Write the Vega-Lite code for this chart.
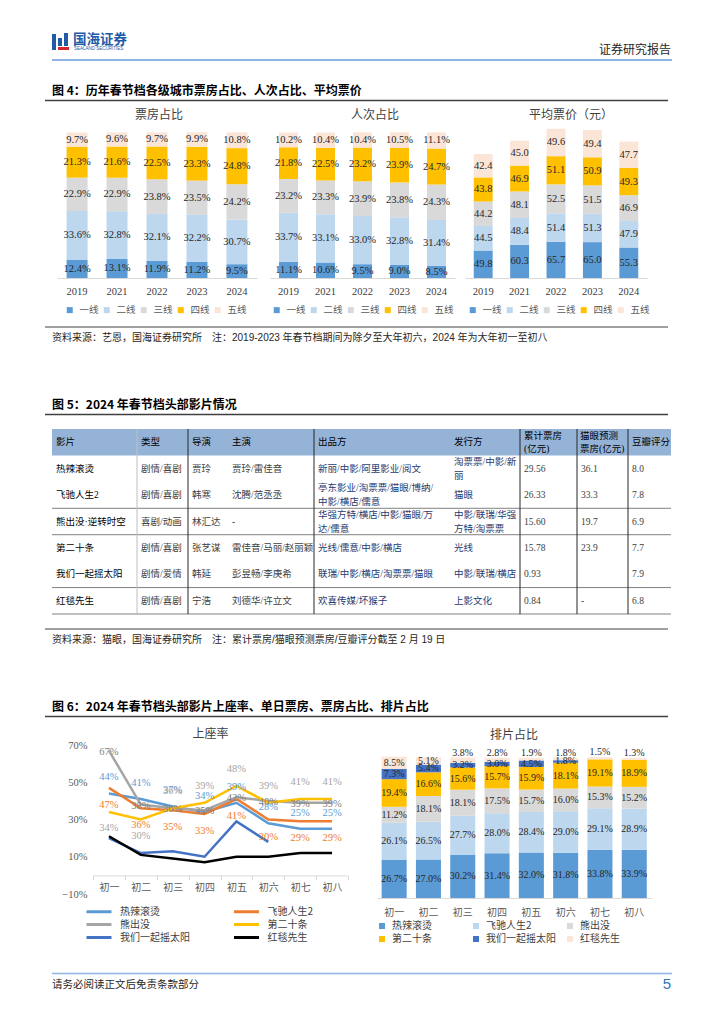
{
"$schema": "https://vega.github.io/schema/vega-lite/v6.json",
"background": "white",
"padding": 0,
"spacing": 0,
"bounds": "full",
"config": {
  "view": {"stroke": null},
  "font": "Noto Sans CJK SC",
  "axis": {"labelFont": "Liberation Serif, Noto Sans CJK SC"},
  "legend": {"labelFont": "Noto Sans CJK SC"}
},
"resolve": {"scale": {"x": "independent", "y": "independent", "color": "independent"}, "legend": {"color": "independent"}},
"datasets": {
  "tiers": [{"tier": "一线", "k": 1}, {"tier": "二线", "k": 2}, {"tier": "三线", "k": 3}, {"tier": "四线", "k": 4}, {"tier": "五线", "k": 5}],
  "films": [{"s": "热辣滚烫", "k": 1}, {"s": "飞驰人生2", "k": 2}, {"s": "熊出没", "k": 3}, {"s": "第二十条", "k": 4}, {"s": "我们一起摇太阳", "k": 5}, {"s": "红毯先生", "k": 6}],
  "box": [
    {"year": "2019", "tier": "一线", "v": 0.124}, {"year": "2019", "tier": "二线", "v": 0.336}, {"year": "2019", "tier": "三线", "v": 0.229}, {"year": "2019", "tier": "四线", "v": 0.213}, {"year": "2019", "tier": "五线", "v": 0.097},
    {"year": "2021", "tier": "一线", "v": 0.131}, {"year": "2021", "tier": "二线", "v": 0.328}, {"year": "2021", "tier": "三线", "v": 0.229}, {"year": "2021", "tier": "四线", "v": 0.216}, {"year": "2021", "tier": "五线", "v": 0.096},
    {"year": "2022", "tier": "一线", "v": 0.119}, {"year": "2022", "tier": "二线", "v": 0.321}, {"year": "2022", "tier": "三线", "v": 0.238}, {"year": "2022", "tier": "四线", "v": 0.225}, {"year": "2022", "tier": "五线", "v": 0.097},
    {"year": "2023", "tier": "一线", "v": 0.112}, {"year": "2023", "tier": "二线", "v": 0.322}, {"year": "2023", "tier": "三线", "v": 0.235}, {"year": "2023", "tier": "四线", "v": 0.233}, {"year": "2023", "tier": "五线", "v": 0.099},
    {"year": "2024", "tier": "一线", "v": 0.095}, {"year": "2024", "tier": "二线", "v": 0.307}, {"year": "2024", "tier": "三线", "v": 0.242}, {"year": "2024", "tier": "四线", "v": 0.248}, {"year": "2024", "tier": "五线", "v": 0.108}
  ],
  "pc": [
    {"year": "2019", "tier": "一线", "v": 0.111}, {"year": "2019", "tier": "二线", "v": 0.337}, {"year": "2019", "tier": "三线", "v": 0.232}, {"year": "2019", "tier": "四线", "v": 0.218}, {"year": "2019", "tier": "五线", "v": 0.102},
    {"year": "2021", "tier": "一线", "v": 0.106}, {"year": "2021", "tier": "二线", "v": 0.331}, {"year": "2021", "tier": "三线", "v": 0.233}, {"year": "2021", "tier": "四线", "v": 0.225}, {"year": "2021", "tier": "五线", "v": 0.104},
    {"year": "2022", "tier": "一线", "v": 0.095}, {"year": "2022", "tier": "二线", "v": 0.330}, {"year": "2022", "tier": "三线", "v": 0.239}, {"year": "2022", "tier": "四线", "v": 0.232}, {"year": "2022", "tier": "五线", "v": 0.104},
    {"year": "2023", "tier": "一线", "v": 0.090}, {"year": "2023", "tier": "二线", "v": 0.328}, {"year": "2023", "tier": "三线", "v": 0.238}, {"year": "2023", "tier": "四线", "v": 0.239}, {"year": "2023", "tier": "五线", "v": 0.105},
    {"year": "2024", "tier": "一线", "v": 0.085}, {"year": "2024", "tier": "二线", "v": 0.314}, {"year": "2024", "tier": "三线", "v": 0.243}, {"year": "2024", "tier": "四线", "v": 0.247}, {"year": "2024", "tier": "五线", "v": 0.111}
  ],
  "price": [
    {"year": "2019", "tier": "一线", "v": 49.8}, {"year": "2019", "tier": "二线", "v": 44.5}, {"year": "2019", "tier": "三线", "v": 44.2}, {"year": "2019", "tier": "四线", "v": 43.8}, {"year": "2019", "tier": "五线", "v": 42.4},
    {"year": "2021", "tier": "一线", "v": 60.3}, {"year": "2021", "tier": "二线", "v": 48.4}, {"year": "2021", "tier": "三线", "v": 48.1}, {"year": "2021", "tier": "四线", "v": 46.9}, {"year": "2021", "tier": "五线", "v": 45.0},
    {"year": "2022", "tier": "一线", "v": 65.7}, {"year": "2022", "tier": "二线", "v": 51.4}, {"year": "2022", "tier": "三线", "v": 52.5}, {"year": "2022", "tier": "四线", "v": 51.1}, {"year": "2022", "tier": "五线", "v": 49.6},
    {"year": "2023", "tier": "一线", "v": 65.0}, {"year": "2023", "tier": "二线", "v": 51.3}, {"year": "2023", "tier": "三线", "v": 51.5}, {"year": "2023", "tier": "四线", "v": 50.9}, {"year": "2023", "tier": "五线", "v": 49.4},
    {"year": "2024", "tier": "一线", "v": 55.3}, {"year": "2024", "tier": "二线", "v": 47.9}, {"year": "2024", "tier": "三线", "v": 46.9}, {"year": "2024", "tier": "四线", "v": 49.3}, {"year": "2024", "tier": "五线", "v": 47.7}
  ],
  "seat": [
    {"d": "初一", "s": "热辣滚烫", "v": 0.44}, {"d": "初二", "s": "热辣滚烫", "v": 0.41}, {"d": "初三", "s": "热辣滚烫", "v": 0.37}, {"d": "初四", "s": "热辣滚烫", "v": 0.34}, {"d": "初五", "s": "热辣滚烫", "v": 0.39}, {"d": "初六", "s": "热辣滚烫", "v": 0.28}, {"d": "初七", "s": "热辣滚烫", "v": 0.25}, {"d": "初八", "s": "热辣滚烫", "v": 0.25},
    {"d": "初一", "s": "飞驰人生2", "v": 0.47}, {"d": "初二", "s": "飞驰人生2", "v": 0.36}, {"d": "初三", "s": "飞驰人生2", "v": 0.35}, {"d": "初四", "s": "飞驰人生2", "v": 0.33}, {"d": "初五", "s": "飞驰人生2", "v": 0.41}, {"d": "初六", "s": "飞驰人生2", "v": 0.30}, {"d": "初七", "s": "飞驰人生2", "v": 0.29}, {"d": "初八", "s": "飞驰人生2", "v": 0.29},
    {"d": "初一", "s": "熊出没", "v": 0.67}, {"d": "初二", "s": "熊出没", "v": 0.38}, {"d": "初三", "s": "熊出没", "v": 0.36}, {"d": "初四", "s": "熊出没", "v": 0.35}, {"d": "初五", "s": "熊出没", "v": 0.42}, {"d": "初六", "s": "熊出没", "v": 0.40}, {"d": "初七", "s": "熊出没", "v": 0.39}, {"d": "初八", "s": "熊出没", "v": 0.39},
    {"d": "初一", "s": "第二十条", "v": 0.34}, {"d": "初二", "s": "第二十条", "v": 0.30}, {"d": "初三", "s": "第二十条", "v": 0.36}, {"d": "初四", "s": "第二十条", "v": 0.39}, {"d": "初五", "s": "第二十条", "v": 0.48}, {"d": "初六", "s": "第二十条", "v": 0.39}, {"d": "初七", "s": "第二十条", "v": 0.41}, {"d": "初八", "s": "第二十条", "v": 0.41},
    {"d": "初一", "s": "我们一起摇太阳", "v": 0.20}, {"d": "初二", "s": "我们一起摇太阳", "v": 0.12}, {"d": "初三", "s": "我们一起摇太阳", "v": 0.13}, {"d": "初四", "s": "我们一起摇太阳", "v": 0.10}, {"d": "初五", "s": "我们一起摇太阳", "v": 0.29}, {"d": "初六", "s": "我们一起摇太阳", "v": 0.18},
    {"d": "初一", "s": "红毯先生", "v": 0.21}, {"d": "初二", "s": "红毯先生", "v": 0.11}, {"d": "初三", "s": "红毯先生", "v": 0.09}, {"d": "初四", "s": "红毯先生", "v": 0.07}, {"d": "初五", "s": "红毯先生", "v": 0.10}, {"d": "初六", "s": "红毯先生", "v": 0.10}, {"d": "初七", "s": "红毯先生", "v": 0.12}, {"d": "初八", "s": "红毯先生", "v": 0.12}
  ],
  "sched": [
    {"d": "初一", "s": "热辣滚烫", "v": 0.267}, {"d": "初一", "s": "飞驰人生2", "v": 0.261}, {"d": "初一", "s": "熊出没", "v": 0.112}, {"d": "初一", "s": "第二十条", "v": 0.194}, {"d": "初一", "s": "我们一起摇太阳", "v": 0.073}, {"d": "初一", "s": "红毯先生", "v": 0.085},
    {"d": "初二", "s": "热辣滚烫", "v": 0.270}, {"d": "初二", "s": "飞驰人生2", "v": 0.265}, {"d": "初二", "s": "熊出没", "v": 0.181}, {"d": "初二", "s": "第二十条", "v": 0.166}, {"d": "初二", "s": "我们一起摇太阳", "v": 0.054}, {"d": "初二", "s": "红毯先生", "v": 0.051},
    {"d": "初三", "s": "热辣滚烫", "v": 0.302}, {"d": "初三", "s": "飞驰人生2", "v": 0.277}, {"d": "初三", "s": "熊出没", "v": 0.181}, {"d": "初三", "s": "第二十条", "v": 0.156}, {"d": "初三", "s": "我们一起摇太阳", "v": 0.032}, {"d": "初三", "s": "红毯先生", "v": 0.038},
    {"d": "初四", "s": "热辣滚烫", "v": 0.314}, {"d": "初四", "s": "飞驰人生2", "v": 0.280}, {"d": "初四", "s": "熊出没", "v": 0.175}, {"d": "初四", "s": "第二十条", "v": 0.157}, {"d": "初四", "s": "我们一起摇太阳", "v": 0.030}, {"d": "初四", "s": "红毯先生", "v": 0.028},
    {"d": "初五", "s": "热辣滚烫", "v": 0.320}, {"d": "初五", "s": "飞驰人生2", "v": 0.284}, {"d": "初五", "s": "熊出没", "v": 0.157}, {"d": "初五", "s": "第二十条", "v": 0.159}, {"d": "初五", "s": "我们一起摇太阳", "v": 0.045}, {"d": "初五", "s": "红毯先生", "v": 0.019},
    {"d": "初六", "s": "热辣滚烫", "v": 0.318}, {"d": "初六", "s": "飞驰人生2", "v": 0.290}, {"d": "初六", "s": "熊出没", "v": 0.160}, {"d": "初六", "s": "第二十条", "v": 0.181}, {"d": "初六", "s": "我们一起摇太阳", "v": 0.018}, {"d": "初六", "s": "红毯先生", "v": 0.018},
    {"d": "初七", "s": "热辣滚烫", "v": 0.338}, {"d": "初七", "s": "飞驰人生2", "v": 0.291}, {"d": "初七", "s": "熊出没", "v": 0.153}, {"d": "初七", "s": "第二十条", "v": 0.191}, {"d": "初七", "s": "红毯先生", "v": 0.015},
    {"d": "初八", "s": "热辣滚烫", "v": 0.339}, {"d": "初八", "s": "飞驰人生2", "v": 0.289}, {"d": "初八", "s": "熊出没", "v": 0.152}, {"d": "初八", "s": "第二十条", "v": 0.189}, {"d": "初八", "s": "红毯先生", "v": 0.013}
  ],
  "table": [
    {"r": "0", "影片": "影片", "类型": "类型", "导演": "导演", "主演": "主演", "出品方": "出品方", "发行方": "发行方", "累计票房": "累计票房\n(亿元)", "猫眼预测票房": "猫眼预测\n票房(亿元)", "豆瓣评分": "豆瓣评分"},
    {"r": "1", "影片": "热辣滚烫", "类型": "剧情/喜剧", "导演": "贾玲", "主演": "贾玲/雷佳音", "出品方": "新丽/中影/阿里影业/阅文", "发行方": "淘票票/中影/新\n丽", "累计票房": "29.56", "猫眼预测票房": "36.1", "豆瓣评分": "8.0"},
    {"r": "2", "影片": "飞驰人生2", "类型": "剧情/喜剧", "导演": "韩寒", "主演": "沈腾/范丞丞", "出品方": "亭东影业/淘票票/猫眼/博纳/\n中影/横店/儒意", "发行方": "猫眼", "累计票房": "26.33", "猫眼预测票房": "33.3", "豆瓣评分": "7.8"},
    {"r": "3", "影片": "熊出没·逆转时空", "类型": "喜剧/动画", "导演": "林汇达", "主演": "-", "出品方": "华强方特/横店/中影/猫眼/万\n达/儒意", "发行方": "中影/联瑞/华强\n方特/淘票票", "累计票房": "15.60", "猫眼预测票房": "19.7", "豆瓣评分": "6.9"},
    {"r": "4", "影片": "第二十条", "类型": "剧情/喜剧", "导演": "张艺谋", "主演": "雷佳音/马丽/赵丽颖", "出品方": "光线/儒意/中影/横店", "发行方": "光线", "累计票房": "15.78", "猫眼预测票房": "23.9", "豆瓣评分": "7.7"},
    {"r": "5", "影片": "我们一起摇太阳", "类型": "剧情/爱情", "导演": "韩延", "主演": "彭昱畅/李庚希", "出品方": "联瑞/中影/横店/淘票票/猫眼", "发行方": "中影/联瑞/横店", "累计票房": "0.93", "猫眼预测票房": "", "豆瓣评分": "7.9"},
    {"r": "6", "影片": "红毯先生", "类型": "剧情/喜剧", "导演": "宁浩", "主演": "刘德华/许立文", "出品方": "欢喜传媒/坏猴子", "发行方": "上影文化", "累计票房": "0.84", "猫眼预测票房": "-", "豆瓣评分": "6.8"}
  ]
},
"vconcat": [
  {
    "width": 724, "height": 108,
    "data": {"values": [{}]},
    "layer": [
      {"mark": {"type": "rect", "color": "#1F5BA6"}, "encoding": {"x": {"value": 52}, "x2": {"value": 56}, "y": {"value": 34}, "y2": {"value": 50}}},
      {"mark": {"type": "rect", "color": "#1F5BA6"}, "encoding": {"x": {"value": 58}, "x2": {"value": 62}, "y": {"value": 38}, "y2": {"value": 46}}},
      {"mark": {"type": "rect", "color": "#1F5BA6"}, "encoding": {"x": {"value": 64}, "x2": {"value": 68}, "y": {"value": 33}, "y2": {"value": 46}}},
      {"mark": {"type": "rect", "color": "#D7262E"}, "encoding": {"x": {"value": 58}, "x2": {"value": 69}, "y": {"value": 47}, "y2": {"value": 50}}},
      {"mark": {"type": "text", "text": "国海证券", "align": "left", "baseline": "middle", "fontSize": 13.5, "fontWeight": "bold", "color": "#1F5BA6"}, "encoding": {"x": {"value": 73}, "y": {"value": 40}}},
      {"mark": {"type": "text", "text": "SEALAND SECURITIES", "align": "left", "baseline": "middle", "fontSize": 4.5, "font": "Liberation Sans", "color": "#1F5BA6"}, "encoding": {"x": {"value": 74}, "y": {"value": 49}}},
      {"mark": {"type": "text", "text": "证券研究报告", "align": "right", "baseline": "middle", "fontSize": 12, "color": "#262626"}, "encoding": {"x": {"value": 671}, "y": {"value": 50}}},
      {"mark": {"type": "rule", "color": "#8DB4E2", "strokeWidth": 2}, "encoding": {"x": {"value": 52}, "x2": {"value": 672}, "y": {"value": 60}}},
      {"mark": {"type": "text", "text": "图 4：历年春节档各级城市票房占比、人次占比、平均票价", "align": "left", "baseline": "middle", "fontSize": 12, "fontWeight": "bold", "color": "#000000"}, "encoding": {"x": {"value": 52}, "y": {"value": 91}}},
      {"mark": {"type": "rule", "color": "#404040", "strokeWidth": 1.5}, "encoding": {"x": {"value": 45}, "x2": {"value": 668}, "y": {"value": 100.5}}}
    ]
  },
  {
    "spacing": 0, "bounds": "flush",
    "resolve": {"scale": {"x": "independent", "y": "independent", "color": "independent"}, "legend": {"color": "independent"}},
    "hconcat": [
      {"width": 57, "height": 212, "data": {"values": [{}]}, "mark": {"type": "point", "opacity": 0, "size": 0}},
      {
        "width": 200, "height": 170,
        "data": {"name": "box"},
        "transform": [{"lookup": "tier", "from": {"data": {"name": "tiers"}, "key": "tier", "fields": ["k"]}}],
        "encoding": {
          "x": {"field": "year", "type": "ordinal", "scale": {"paddingInner": 0.475, "paddingOuter": 0.24}, "axis": {"title": null, "labelAngle": 0, "ticks": false, "domainColor": "#D9D9D9", "labelFontSize": 10.5, "labelColor": "#404040", "labelPadding": 8, "grid": false, "labelFont": "Liberation Serif"}},
          "y": {"field": "v", "type": "quantitative", "stack": "zero", "scale": {"domain": [0, 1.1676]}, "axis": null},
          "order": {"field": "k", "type": "quantitative"}
        },
        "layer": [
          {"mark": "bar", "encoding": {"color": {"field": "tier", "type": "nominal", "scale": {"domain": ["一线", "二线", "三线", "四线", "五线"], "range": ["#5B9BD5", "#BDD7EE", "#D9D9D9", "#FFC000", "#FBE5D6"]}, "legend": {"title": null, "orient": "none", "legendX": 8, "legendY": 197, "direction": "horizontal", "symbolType": "square", "symbolSize": 36, "symbolStrokeWidth": 0, "labelFontSize": 9.5, "labelColor": "#595959", "labelOffset": 5, "columnPadding": 3}}}},
          {"mark": {"type": "text", "font": "Liberation Serif", "fontSize": 10.5, "color": "#262626", "baseline": "middle"}, "encoding": {"detail": {"field": "tier"}, "y": {"field": "v", "type": "quantitative", "stack": "zero", "bandPosition": 0.5}, "text": {"field": "v", "type": "quantitative", "format": ".1%"}}},
          {"data": {"values": [{}]}, "mark": {"type": "text", "text": "票房占比", "fontSize": 12, "color": "#404040", "align": "center", "baseline": "middle"}, "encoding": {"x": {"value": 102}, "y": {"value": 7}}}
        ]
      },
      {"width": 12.5, "height": 212, "data": {"values": [{}]}, "mark": {"type": "point", "opacity": 0, "size": 0}},
      {
        "width": 185, "height": 170,
        "data": {"name": "pc"},
        "transform": [{"lookup": "tier", "from": {"data": {"name": "tiers"}, "key": "tier", "fields": ["k"]}}],
        "encoding": {
          "x": {"field": "year", "type": "ordinal", "scale": {"paddingInner": 0.486, "paddingOuter": 0.243}, "axis": {"title": null, "labelAngle": 0, "ticks": false, "domainColor": "#D9D9D9", "labelFontSize": 10.5, "labelColor": "#404040", "labelPadding": 8, "grid": false, "labelFont": "Liberation Serif"}},
          "y": {"field": "v", "type": "quantitative", "stack": "zero", "scale": {"domain": [0, 1.1676]}, "axis": null},
          "order": {"field": "k", "type": "quantitative"}
        },
        "layer": [
          {"mark": "bar", "encoding": {"color": {"field": "tier", "type": "nominal", "scale": {"domain": ["一线", "二线", "三线", "四线", "五线"], "range": ["#5B9BD5", "#BDD7EE", "#D9D9D9", "#FFC000", "#FBE5D6"]}, "legend": {"title": null, "orient": "none", "legendX": 2, "legendY": 197, "direction": "horizontal", "symbolType": "square", "symbolSize": 36, "symbolStrokeWidth": 0, "labelFontSize": 9.5, "labelColor": "#595959", "labelOffset": 5, "columnPadding": 3}}}},
          {"mark": {"type": "text", "font": "Liberation Serif", "fontSize": 10.5, "color": "#262626", "baseline": "middle"}, "encoding": {"detail": {"field": "tier"}, "y": {"field": "v", "type": "quantitative", "stack": "zero", "bandPosition": 0.5}, "text": {"field": "v", "type": "quantitative", "format": ".1%"}}},
          {"data": {"values": [{}]}, "mark": {"type": "text", "text": "人次占比", "fontSize": 12, "color": "#404040", "align": "center", "baseline": "middle"}, "encoding": {"x": {"value": 105}, "y": {"value": 7}}}
        ]
      },
      {"width": 9.3, "height": 212, "data": {"values": [{}]}, "mark": {"type": "point", "opacity": 0, "size": 0}},
      {
        "width": 182, "height": 170,
        "data": {"name": "price"},
        "transform": [{"lookup": "tier", "from": {"data": {"name": "tiers"}, "key": "tier", "fields": ["k"]}}],
        "encoding": {
          "x": {"field": "year", "type": "ordinal", "scale": {"paddingInner": 0.48, "paddingOuter": 0.24}, "axis": {"title": null, "labelAngle": 0, "ticks": false, "domainColor": "#D9D9D9", "labelFontSize": 10.5, "labelColor": "#404040", "labelPadding": 8, "grid": false, "labelFont": "Liberation Serif"}},
          "y": {"field": "v", "type": "quantitative", "stack": "zero", "scale": {"domain": [0, 308]}, "axis": null},
          "order": {"field": "k", "type": "quantitative"}
        },
        "layer": [
          {"mark": "bar", "encoding": {"color": {"field": "tier", "type": "nominal", "scale": {"domain": ["一线", "二线", "三线", "四线", "五线"], "range": ["#5B9BD5", "#BDD7EE", "#D9D9D9", "#FFC000", "#FBE5D6"]}, "legend": {"title": null, "orient": "none", "legendX": 3, "legendY": 197, "direction": "horizontal", "symbolType": "square", "symbolSize": 36, "symbolStrokeWidth": 0, "labelFontSize": 9.5, "labelColor": "#595959", "labelOffset": 5, "columnPadding": 3}}}},
          {"mark": {"type": "text", "font": "Liberation Serif", "fontSize": 10.5, "color": "#262626", "baseline": "middle"}, "encoding": {"detail": {"field": "tier"}, "y": {"field": "v", "type": "quantitative", "stack": "zero", "bandPosition": 0.5}, "text": {"field": "v", "type": "quantitative", "format": ".1f"}}},
          {"data": {"values": [{}]}, "mark": {"type": "text", "text": "平均票价（元）", "fontSize": 12, "color": "#404040", "align": "center", "baseline": "middle"}, "encoding": {"x": {"value": 106}, "y": {"value": 7}}}
        ]
      }
    ]
  },
  {
    "width": 724, "height": 108,
    "data": {"values": [{}]},
    "layer": [
      {"mark": {"type": "rule", "color": "#404040", "strokeWidth": 1}, "encoding": {"x": {"value": 45}, "x2": {"value": 668}, "y": {"value": 7}}},
      {"mark": {"type": "text", "text": "资料来源：艺恩，国海证券研究所　注：2019-2023 年春节档期间为除夕至大年初六，2024 年为大年初一至初八", "align": "left", "baseline": "middle", "fontSize": 10, "font": "Liberation Sans, Noto Sans CJK SC", "color": "#262626"}, "encoding": {"x": {"value": 52}, "y": {"value": 18}}},
      {"mark": {"type": "text", "text": "图 5：2024 年春节档头部影片情况", "align": "left", "baseline": "middle", "fontSize": 12, "fontWeight": "bold", "color": "#000000"}, "encoding": {"x": {"value": 52}, "y": {"value": 85}}},
      {"mark": {"type": "rule", "color": "#404040", "strokeWidth": 1.5}, "encoding": {"x": {"value": 45}, "x2": {"value": 668}, "y": {"value": 94.5}}}
    ]
  },
  {
    "spacing": 0, "bounds": "flush",
    "resolve": {"scale": {"x": "independent", "y": "independent", "color": "independent"}},
    "hconcat": [
      {"width": 52, "height": 185, "data": {"values": [{}]}, "mark": {"type": "point", "opacity": 0, "size": 0}},
      {"width": 85, "height": 185, "data": {"name": "table"}, "layer": [
        {"transform": [{"filter": "datum.r == '0'"}], "mark": {"type": "rect", "color": "#95B3D7"}, "encoding": {"y": {"field": "r", "type": "ordinal", "scale": {"domain": ["0","1","2","3","4","5","6"], "paddingInner": 0, "paddingOuter": 0}, "axis": null}}},
        {"mark": {"type": "text", "align": "left", "baseline": "middle", "dx": 4, "lineBreak": "\n", "lineHeight": 14, "fontSize": 9.5, "font": "Liberation Serif, Noto Sans CJK SC"}, "encoding": {"x": {"value": 0}, "y": {"field": "r", "type": "ordinal", "scale": {"domain": ["0","1","2","3","4","5","6"], "paddingInner": 0, "paddingOuter": 0}, "axis": null}, "text": {"field": "影片"}, "color": {"value": "#000000"}}},
        {"transform": [{"filter": "datum.r == '2' || datum.r == '3' || datum.r == '5' || datum.r == '6'"}], "mark": {"type": "rule", "color": "#808080"}, "encoding": {"y": {"field": "r", "type": "ordinal", "bandPosition": 1, "scale": {"domain": ["0","1","2","3","4","5","6"], "paddingInner": 0, "paddingOuter": 0}, "axis": null}}}
      ]},
      {"width": 51, "height": 185, "data": {"name": "table"}, "layer": [
        {"transform": [{"filter": "datum.r == '0'"}], "mark": {"type": "rect", "color": "#95B3D7"}, "encoding": {"y": {"field": "r", "type": "ordinal", "scale": {"domain": ["0","1","2","3","4","5","6"], "paddingInner": 0, "paddingOuter": 0}, "axis": null}}},
        {"mark": {"type": "text", "align": "left", "baseline": "middle", "dx": 4, "lineBreak": "\n", "lineHeight": 14, "fontSize": 9.5, "font": "Liberation Serif, Noto Sans CJK SC"}, "encoding": {"x": {"value": 0}, "y": {"field": "r", "type": "ordinal", "scale": {"domain": ["0","1","2","3","4","5","6"], "paddingInner": 0, "paddingOuter": 0}, "axis": null}, "text": {"field": "类型"}, "color": {"condition": {"test": "datum.r == '0'", "value": "#000000"}, "value": "#404040"}}},
        {"transform": [{"filter": "datum.r == '2' || datum.r == '3' || datum.r == '5' || datum.r == '6'"}], "mark": {"type": "rule", "color": "#808080"}, "encoding": {"y": {"field": "r", "type": "ordinal", "bandPosition": 1, "scale": {"domain": ["0","1","2","3","4","5","6"], "paddingInner": 0, "paddingOuter": 0}, "axis": null}}},
        {"data": {"values": [{}]}, "mark": {"type": "rule", "color": "#BFBFBF"}, "encoding": {"x": {"value": 0}}}
      ]},
      {"width": 40, "height": 185, "data": {"name": "table"}, "layer": [
        {"transform": [{"filter": "datum.r == '0'"}], "mark": {"type": "rect", "color": "#95B3D7"}, "encoding": {"y": {"field": "r", "type": "ordinal", "scale": {"domain": ["0","1","2","3","4","5","6"], "paddingInner": 0, "paddingOuter": 0}, "axis": null}}},
        {"mark": {"type": "text", "align": "left", "baseline": "middle", "dx": 4, "lineBreak": "\n", "lineHeight": 14, "fontSize": 9.5, "font": "Liberation Serif, Noto Sans CJK SC"}, "encoding": {"x": {"value": 0}, "y": {"field": "r", "type": "ordinal", "scale": {"domain": ["0","1","2","3","4","5","6"], "paddingInner": 0, "paddingOuter": 0}, "axis": null}, "text": {"field": "导演"}, "color": {"condition": {"test": "datum.r == '0'", "value": "#000000"}, "value": "#404040"}}},
        {"transform": [{"filter": "datum.r == '2' || datum.r == '3' || datum.r == '5' || datum.r == '6'"}], "mark": {"type": "rule", "color": "#808080"}, "encoding": {"y": {"field": "r", "type": "ordinal", "bandPosition": 1, "scale": {"domain": ["0","1","2","3","4","5","6"], "paddingInner": 0, "paddingOuter": 0}, "axis": null}}},
        {"data": {"values": [{}]}, "mark": {"type": "rule", "color": "#262626"}, "encoding": {"x": {"value": 0}}}
      ]},
      {"width": 86, "height": 185, "data": {"name": "table"}, "layer": [
        {"transform": [{"filter": "datum.r == '0'"}], "mark": {"type": "rect", "color": "#95B3D7"}, "encoding": {"y": {"field": "r", "type": "ordinal", "scale": {"domain": ["0","1","2","3","4","5","6"], "paddingInner": 0, "paddingOuter": 0}, "axis": null}}},
        {"mark": {"type": "text", "align": "left", "baseline": "middle", "dx": 4, "lineBreak": "\n", "lineHeight": 14, "fontSize": 9.5, "font": "Liberation Serif, Noto Sans CJK SC"}, "encoding": {"x": {"value": 0}, "y": {"field": "r", "type": "ordinal", "scale": {"domain": ["0","1","2","3","4","5","6"], "paddingInner": 0, "paddingOuter": 0}, "axis": null}, "text": {"field": "主演"}, "color": {"condition": {"test": "datum.r == '0'", "value": "#000000"}, "value": "#404040"}}},
        {"transform": [{"filter": "datum.r == '2' || datum.r == '3' || datum.r == '5' || datum.r == '6'"}], "mark": {"type": "rule", "color": "#808080"}, "encoding": {"y": {"field": "r", "type": "ordinal", "bandPosition": 1, "scale": {"domain": ["0","1","2","3","4","5","6"], "paddingInner": 0, "paddingOuter": 0}, "axis": null}}}
      ]},
      {"width": 136, "height": 185, "data": {"name": "table"}, "layer": [
        {"transform": [{"filter": "datum.r == '0'"}], "mark": {"type": "rect", "color": "#95B3D7"}, "encoding": {"y": {"field": "r", "type": "ordinal", "scale": {"domain": ["0","1","2","3","4","5","6"], "paddingInner": 0, "paddingOuter": 0}, "axis": null}}},
        {"transform": [{"filter": "indexof(datum['出品方'], '\\n') < 0"}], "mark": {"type": "text", "align": "left", "baseline": "middle", "dx": 4, "lineBreak": "\n", "lineHeight": 14, "fontSize": 9.5, "font": "Liberation Serif, Noto Sans CJK SC"}, "encoding": {"x": {"value": 0}, "y": {"field": "r", "type": "ordinal", "scale": {"domain": ["0","1","2","3","4","5","6"], "paddingInner": 0, "paddingOuter": 0}, "axis": null}, "text": {"field": "出品方"}, "color": {"condition": {"test": "datum.r == '0'", "value": "#000000"}, "value": "#1F3A6E"}}},
        {"transform": [{"filter": "indexof(datum['出品方'], '\\n') >= 0"}], "mark": {"type": "text", "align": "left", "baseline": "middle", "dx": 4, "dy": -7, "lineBreak": "\n", "lineHeight": 14, "fontSize": 9.5, "font": "Liberation Serif, Noto Sans CJK SC"}, "encoding": {"x": {"value": 0}, "y": {"field": "r", "type": "ordinal", "scale": {"domain": ["0","1","2","3","4","5","6"], "paddingInner": 0, "paddingOuter": 0}, "axis": null}, "text": {"field": "出品方"}, "color": {"condition": {"test": "datum.r == '0'", "value": "#000000"}, "value": "#1F3A6E"}}},
        {"transform": [{"filter": "datum.r == '2' || datum.r == '3' || datum.r == '5' || datum.r == '6'"}], "mark": {"type": "rule", "color": "#808080"}, "encoding": {"y": {"field": "r", "type": "ordinal", "bandPosition": 1, "scale": {"domain": ["0","1","2","3","4","5","6"], "paddingInner": 0, "paddingOuter": 0}, "axis": null}}},
        {"data": {"values": [{}]}, "mark": {"type": "rule", "color": "#262626"}, "encoding": {"x": {"value": 0}}}
      ]},
      {"width": 70, "height": 185, "data": {"name": "table"}, "layer": [
        {"transform": [{"filter": "datum.r == '0'"}], "mark": {"type": "rect", "color": "#95B3D7"}, "encoding": {"y": {"field": "r", "type": "ordinal", "scale": {"domain": ["0","1","2","3","4","5","6"], "paddingInner": 0, "paddingOuter": 0}, "axis": null}}},
        {"transform": [{"filter": "indexof(datum['发行方'], '\\n') < 0"}], "mark": {"type": "text", "align": "left", "baseline": "middle", "dx": 4, "lineBreak": "\n", "lineHeight": 14, "fontSize": 9.5, "font": "Liberation Serif, Noto Sans CJK SC"}, "encoding": {"x": {"value": 0}, "y": {"field": "r", "type": "ordinal", "scale": {"domain": ["0","1","2","3","4","5","6"], "paddingInner": 0, "paddingOuter": 0}, "axis": null}, "text": {"field": "发行方"}, "color": {"condition": {"test": "datum.r == '0'", "value": "#000000"}, "value": "#1F3A6E"}}},
        {"transform": [{"filter": "indexof(datum['发行方'], '\\n') >= 0"}], "mark": {"type": "text", "align": "left", "baseline": "middle", "dx": 4, "dy": -7, "lineBreak": "\n", "lineHeight": 14, "fontSize": 9.5, "font": "Liberation Serif, Noto Sans CJK SC"}, "encoding": {"x": {"value": 0}, "y": {"field": "r", "type": "ordinal", "scale": {"domain": ["0","1","2","3","4","5","6"], "paddingInner": 0, "paddingOuter": 0}, "axis": null}, "text": {"field": "发行方"}, "color": {"condition": {"test": "datum.r == '0'", "value": "#000000"}, "value": "#1F3A6E"}}},
        {"transform": [{"filter": "datum.r == '2' || datum.r == '3' || datum.r == '5' || datum.r == '6'"}], "mark": {"type": "rule", "color": "#808080"}, "encoding": {"y": {"field": "r", "type": "ordinal", "bandPosition": 1, "scale": {"domain": ["0","1","2","3","4","5","6"], "paddingInner": 0, "paddingOuter": 0}, "axis": null}}}
      ]},
      {"width": 57, "height": 185, "data": {"name": "table"}, "layer": [
        {"transform": [{"filter": "datum.r == '0'"}], "mark": {"type": "rect", "color": "#95B3D7"}, "encoding": {"y": {"field": "r", "type": "ordinal", "scale": {"domain": ["0","1","2","3","4","5","6"], "paddingInner": 0, "paddingOuter": 0}, "axis": null}}},
        {"transform": [{"filter": "indexof(datum['累计票房'], '\\n') < 0"}], "mark": {"type": "text", "align": "left", "baseline": "middle", "dx": 4, "lineBreak": "\n", "lineHeight": 14, "fontSize": 9.5, "font": "Liberation Serif, Noto Sans CJK SC"}, "encoding": {"x": {"value": 0}, "y": {"field": "r", "type": "ordinal", "scale": {"domain": ["0","1","2","3","4","5","6"], "paddingInner": 0, "paddingOuter": 0}, "axis": null}, "text": {"field": "累计票房"}, "color": {"condition": {"test": "datum.r == '0'", "value": "#000000"}, "value": "#404040"}}},
        {"transform": [{"filter": "indexof(datum['累计票房'], '\\n') >= 0"}], "mark": {"type": "text", "align": "left", "baseline": "middle", "dx": 4, "dy": -6.5, "lineBreak": "\n", "lineHeight": 13, "fontSize": 9.5, "font": "Liberation Serif, Noto Sans CJK SC"}, "encoding": {"x": {"value": 0}, "y": {"field": "r", "type": "ordinal", "scale": {"domain": ["0","1","2","3","4","5","6"], "paddingInner": 0, "paddingOuter": 0}, "axis": null}, "text": {"field": "累计票房"}, "color": {"condition": {"test": "datum.r == '0'", "value": "#000000"}, "value": "#404040"}}},
        {"transform": [{"filter": "datum.r == '2' || datum.r == '3' || datum.r == '5' || datum.r == '6'"}], "mark": {"type": "rule", "color": "#808080"}, "encoding": {"y": {"field": "r", "type": "ordinal", "bandPosition": 1, "scale": {"domain": ["0","1","2","3","4","5","6"], "paddingInner": 0, "paddingOuter": 0}, "axis": null}}},
        {"data": {"values": [{}]}, "mark": {"type": "rule", "color": "#262626"}, "encoding": {"x": {"value": 0}}}
      ]},
      {"width": 51, "height": 185, "data": {"name": "table"}, "layer": [
        {"transform": [{"filter": "datum.r == '0'"}], "mark": {"type": "rect", "color": "#95B3D7"}, "encoding": {"y": {"field": "r", "type": "ordinal", "scale": {"domain": ["0","1","2","3","4","5","6"], "paddingInner": 0, "paddingOuter": 0}, "axis": null}}},
        {"transform": [{"filter": "indexof(datum['猫眼预测票房'], '\\n') < 0"}], "mark": {"type": "text", "align": "left", "baseline": "middle", "dx": 4, "lineBreak": "\n", "lineHeight": 14, "fontSize": 9.5, "font": "Liberation Serif, Noto Sans CJK SC"}, "encoding": {"x": {"value": 0}, "y": {"field": "r", "type": "ordinal", "scale": {"domain": ["0","1","2","3","4","5","6"], "paddingInner": 0, "paddingOuter": 0}, "axis": null}, "text": {"field": "猫眼预测票房"}, "color": {"condition": {"test": "datum.r == '0'", "value": "#000000"}, "value": "#404040"}}},
        {"transform": [{"filter": "indexof(datum['猫眼预测票房'], '\\n') >= 0"}], "mark": {"type": "text", "align": "left", "baseline": "middle", "dx": 3, "dy": -6.5, "lineBreak": "\n", "lineHeight": 13, "fontSize": 9.5, "font": "Liberation Serif, Noto Sans CJK SC"}, "encoding": {"x": {"value": 0}, "y": {"field": "r", "type": "ordinal", "scale": {"domain": ["0","1","2","3","4","5","6"], "paddingInner": 0, "paddingOuter": 0}, "axis": null}, "text": {"field": "猫眼预测票房"}, "color": {"condition": {"test": "datum.r == '0'", "value": "#000000"}, "value": "#404040"}}},
        {"transform": [{"filter": "datum.r == '2' || datum.r == '3' || datum.r == '5' || datum.r == '6'"}], "mark": {"type": "rule", "color": "#808080"}, "encoding": {"y": {"field": "r", "type": "ordinal", "bandPosition": 1, "scale": {"domain": ["0","1","2","3","4","5","6"], "paddingInner": 0, "paddingOuter": 0}, "axis": null}}},
        {"data": {"values": [{}]}, "mark": {"type": "rule", "color": "#262626"}, "encoding": {"x": {"value": 0}}}
      ]},
      {"width": 43, "height": 185, "data": {"name": "table"}, "layer": [
        {"transform": [{"filter": "datum.r == '0'"}], "mark": {"type": "rect", "color": "#95B3D7"}, "encoding": {"y": {"field": "r", "type": "ordinal", "scale": {"domain": ["0","1","2","3","4","5","6"], "paddingInner": 0, "paddingOuter": 0}, "axis": null}}},
        {"mark": {"type": "text", "align": "left", "baseline": "middle", "dx": 4, "lineBreak": "\n", "lineHeight": 14, "fontSize": 9.5, "font": "Liberation Serif, Noto Sans CJK SC"}, "encoding": {"x": {"value": 0}, "y": {"field": "r", "type": "ordinal", "scale": {"domain": ["0","1","2","3","4","5","6"], "paddingInner": 0, "paddingOuter": 0}, "axis": null}, "text": {"field": "豆瓣评分"}, "color": {"condition": {"test": "datum.r == '0'", "value": "#000000"}, "value": "#404040"}}},
        {"transform": [{"filter": "datum.r == '2' || datum.r == '3' || datum.r == '5' || datum.r == '6'"}], "mark": {"type": "rule", "color": "#808080"}, "encoding": {"y": {"field": "r", "type": "ordinal", "bandPosition": 1, "scale": {"domain": ["0","1","2","3","4","5","6"], "paddingInner": 0, "paddingOuter": 0}, "axis": null}}},
        {"data": {"values": [{}]}, "mark": {"type": "rule", "color": "#262626"}, "encoding": {"x": {"value": 0}}}
      ]}
    ]
  },
  {
    "width": 724, "height": 109,
    "data": {"values": [{}]},
    "layer": [
      {"mark": {"type": "rule", "color": "#404040", "strokeWidth": 1}, "encoding": {"x": {"value": 45}, "x2": {"value": 668}, "y": {"value": 14}}},
      {"mark": {"type": "text", "text": "资料来源：猫眼，国海证券研究所　注：累计票房/猫眼预测票房/豆瓣评分截至 2 月 19 日", "align": "left", "baseline": "middle", "fontSize": 10, "font": "Liberation Sans, Noto Sans CJK SC", "color": "#262626"}, "encoding": {"x": {"value": 52}, "y": {"value": 25}}},
      {"mark": {"type": "text", "text": "图 6：2024 年春节档头部影片上座率、单日票房、票房占比、排片占比", "align": "left", "baseline": "middle", "fontSize": 12, "fontWeight": "bold", "color": "#000000"}, "encoding": {"x": {"value": 52}, "y": {"value": 92}}},
      {"mark": {"type": "rule", "color": "#404040", "strokeWidth": 1.5}, "encoding": {"x": {"value": 45}, "x2": {"value": 668}, "y": {"value": 101.5}}}
    ]
  },
  {
    "spacing": 0, "bounds": "flush",
    "resolve": {"scale": {"x": "independent", "y": "independent", "color": "independent"}, "legend": {"color": "independent"}},
    "hconcat": [
      {"width": 93, "height": 230, "data": {"values": [{}]}, "mark": {"type": "point", "opacity": 0, "size": 0}},
      {
        "width": 255, "height": 170,
        "data": {"name": "seat"},
        "encoding": {
          "x": {"field": "d", "type": "ordinal", "sort": ["初一", "初二", "初三", "初四", "初五", "初六", "初七", "初八"], "scale": {"paddingInner": 0, "paddingOuter": 0}, "axis": {"title": null, "labelAngle": 0, "offset": -18.6, "tickBand": "extent", "tickSize": 4, "tickColor": "#D9D9D9", "domainColor": "#D9D9D9", "labelPadding": 3, "labelFontSize": 10, "labelColor": "#595959", "labelFont": "Noto Sans CJK SC", "grid": false}},
          "y": {"field": "v", "type": "quantitative", "scale": {"domain": [-0.1, 0.8128]}, "axis": {"title": null, "values": [-0.1, 0.1, 0.3, 0.5, 0.7], "format": ".0%", "domain": false, "ticks": false, "grid": false, "labelFont": "Liberation Serif", "labelFontSize": 10.5, "labelColor": "#595959", "labelPadding": 6}}
        },
        "layer": [
          {"mark": {"type": "line", "strokeWidth": 2.5}, "encoding": {"color": {"field": "s", "type": "nominal", "scale": {"domain": ["热辣滚烫", "飞驰人生2", "熊出没", "第二十条", "我们一起摇太阳", "红毯先生"], "range": ["#5B9BD5", "#ED7D31", "#A5A5A5", "#FFC000", "#4472C4", "#000000"]}, "legend": {"title": null, "orient": "none", "legendX": -0.5, "legendY": 181, "columns": 2, "direction": "horizontal", "gridAlign": "all", "symbolType": "M-2.5,0H2.5", "symbolSize": 100, "symbolStrokeWidth": 3, "labelFontSize": 10, "labelColor": "#404040", "labelOffset": 14.5, "columnPadding": 37.5, "rowPadding": 0}}}},
          {"transform": [{"filter": "datum.s == '热辣滚烫'"}], "mark": {"type": "text", "dy": -16, "color": "#5B9BD5", "font": "Liberation Serif", "fontSize": 10.5}, "encoding": {"text": {"field": "v", "type": "quantitative", "format": ".0%"}}},
          {"transform": [{"filter": "datum.s == '飞驰人生2'"}], "mark": {"type": "text", "dy": 17, "color": "#ED7D31", "font": "Liberation Serif", "fontSize": 10.5}, "encoding": {"text": {"field": "v", "type": "quantitative", "format": ".0%"}}},
          {"transform": [{"filter": "datum.s == '熊出没'"}], "mark": {"type": "text", "dy": 1, "color": "#7F7F7F", "font": "Liberation Serif", "fontSize": 10.5}, "encoding": {"text": {"field": "v", "type": "quantitative", "format": ".0%"}}},
          {"transform": [{"filter": "datum.s == '第二十条' && (datum.d == '初一' || datum.d == '初二')"}], "mark": {"type": "text", "dy": 16, "color": "#A5A5A5", "font": "Liberation Serif", "fontSize": 10.5}, "encoding": {"text": {"field": "v", "type": "quantitative", "format": ".0%"}}},
          {"transform": [{"filter": "datum.s == '第二十条' && datum.d != '初一' && datum.d != '初二'"}], "mark": {"type": "text", "dy": -17, "color": "#A5A5A5", "font": "Liberation Serif", "fontSize": 10.5}, "encoding": {"text": {"field": "v", "type": "quantitative", "format": ".0%"}}},
          {"data": {"values": [{}]}, "mark": {"type": "text", "text": "上座率", "fontSize": 12, "color": "#404040", "align": "center", "baseline": "middle"}, "encoding": {"x": {"value": 117.5}, "y": {"value": 10}}}
        ]
      },
      {"width": 28.4, "height": 230, "data": {"values": [{}]}, "mark": {"type": "point", "opacity": 0, "size": 0}},
      {
        "width": 274.4, "height": 174,
        "data": {"name": "sched"},
        "transform": [{"lookup": "s", "from": {"data": {"name": "films"}, "key": "s", "fields": ["k"]}}],
        "encoding": {
          "x": {"field": "d", "type": "ordinal", "sort": ["初一", "初二", "初三", "初四", "初五", "初六", "初七", "初八"], "scale": {"paddingInner": 0.27, "paddingOuter": 0.135}, "axis": {"title": null, "labelAngle": 0, "ticks": false, "domainColor": "#D9D9D9", "labelPadding": 9, "labelFontSize": 10, "labelColor": "#595959", "labelFont": "Noto Sans CJK SC", "grid": false}},
          "y": {"field": "v", "type": "quantitative", "stack": "zero", "scale": {"domain": [0, 1.2211]}, "axis": null},
          "order": {"field": "k", "type": "quantitative"}
        },
        "layer": [
          {"mark": "bar", "encoding": {"color": {"field": "s", "type": "nominal", "scale": {"domain": ["热辣滚烫", "飞驰人生2", "熊出没", "第二十条", "我们一起摇太阳", "红毯先生"], "range": ["#5B9BD5", "#BDD7EE", "#D9D9D9", "#FFC000", "#4472C4", "#FBE5D6"]}, "legend": {"title": null, "orient": "none", "legendX": 0, "legendY": 197, "columns": 3, "direction": "horizontal", "gridAlign": "all", "symbolType": "square", "symbolSize": 36, "symbolStrokeWidth": 0, "labelFontSize": 10, "labelColor": "#404040", "labelOffset": 5, "columnPadding": 9, "rowPadding": 3}}}},
          {"mark": {"type": "text", "font": "Liberation Serif", "fontSize": 10, "color": "#262626", "baseline": "middle"}, "encoding": {"detail": {"field": "s"}, "y": {"field": "v", "type": "quantitative", "stack": "zero", "bandPosition": 0.5}, "text": {"condition": {"test": "datum.s == '红毯先生' && datum.d != '初一' && datum.d != '初二'", "value": ""}, "field": "v", "type": "quantitative", "format": ".1%"}}},
          {"transform": [{"stack": "v", "groupby": ["d"], "sort": [{"field": "k", "order": "ascending"}], "as": ["v0", "v1"]}, {"filter": "datum.s == '红毯先生' && datum.d != '初一' && datum.d != '初二'"}], "mark": {"type": "text", "font": "Liberation Serif", "fontSize": 10, "color": "#262626", "baseline": "middle", "dy": -5}, "encoding": {"y": {"field": "v1", "type": "quantitative"}, "text": {"field": "v", "type": "quantitative", "format": ".1%"}}},
          {"data": {"values": [{}]}, "mark": {"type": "text", "text": "排片占比", "fontSize": 12, "color": "#404040", "align": "center", "baseline": "middle"}, "encoding": {"x": {"value": 137}, "y": {"value": 11}}}
        ]
      }
    ]
  },
  {
    "width": 724, "height": 72,
    "data": {"values": [{}]},
    "layer": [
      {"mark": {"type": "rule", "color": "#8DB4E2", "strokeWidth": 1.5}, "encoding": {"x": {"value": 52}, "x2": {"value": 672}, "y": {"value": 19.5}}},
      {"mark": {"type": "text", "text": "请务必阅读正文后免责条款部分", "align": "left", "baseline": "middle", "fontSize": 10.5, "color": "#262626"}, "encoding": {"x": {"value": 52}, "y": {"value": 31}}},
      {"mark": {"type": "text", "text": "5", "align": "right", "baseline": "middle", "fontSize": 15, "font": "Liberation Sans", "color": "#2E75B6"}, "encoding": {"x": {"value": 671}, "y": {"value": 30}}}
    ]
  }
]
}
